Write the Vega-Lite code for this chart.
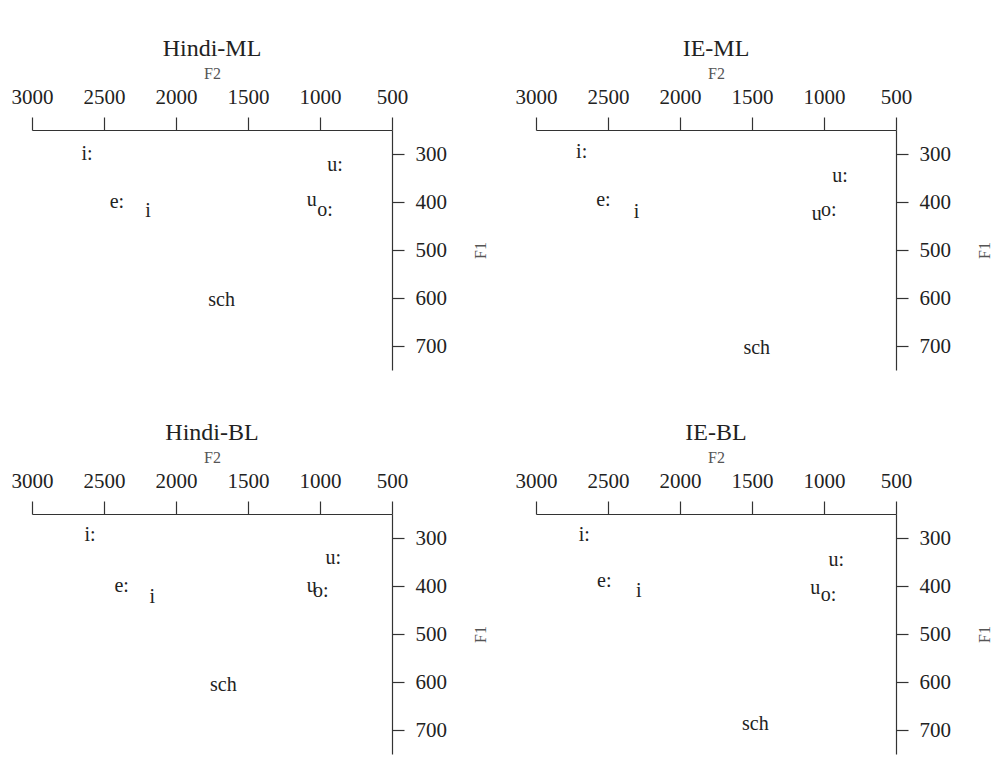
{
  "$schema": "https://vega.github.io/schema/vega-lite/v6.json",
  "background": "white",
  "padding": {"left": 11, "top": 37, "right": 5, "bottom": 5},
  "config": {
    "font": "Liberation Serif",
    "view": {"stroke": null},
    "text": {"font": "Liberation Serif", "fontSize": 20, "color": "#222"},
    "axis": {
      "labelFont": "Liberation Serif", "titleFont": "Liberation Serif",
      "labelFontSize": 21, "titleFontSize": 16, "titleFontWeight": "normal",
      "labelColor": "#222", "titleColor": "#555", "format": "d",
      "domainColor": "#333", "tickColor": "#333", "domainWidth": 1.2, "tickWidth": 1.2,
      "grid": false, "tickSize": 13, "labelFlush": false, "labelOverlap": false
    },
    "title": {"font": "Liberation Serif", "fontSize": 24, "fontWeight": "normal", "color": "#222", "anchor": "middle", "frame": "group"}
  },
  "datasets": {
    "vowels": [
      {"panel": "Hindi-ML", "label": "i:", "F2": 2618, "F1": 300},
      {"panel": "Hindi-ML", "label": "u:", "F2": 896, "F1": 323},
      {"panel": "Hindi-ML", "label": "e:", "F2": 2410, "F1": 401},
      {"panel": "Hindi-ML", "label": "i", "F2": 2194, "F1": 418},
      {"panel": "Hindi-ML", "label": "u", "F2": 1058, "F1": 396},
      {"panel": "Hindi-ML", "label": "o:", "F2": 965, "F1": 417},
      {"panel": "Hindi-ML", "label": "sch", "F2": 1683, "F1": 604},
      {"panel": "IE-ML", "label": "i:", "F2": 2683, "F1": 295},
      {"panel": "IE-ML", "label": "u:", "F2": 889, "F1": 346},
      {"panel": "IE-ML", "label": "e:", "F2": 2532, "F1": 396},
      {"panel": "IE-ML", "label": "i", "F2": 2301, "F1": 420},
      {"panel": "IE-ML", "label": "u", "F2": 1051, "F1": 426},
      {"panel": "IE-ML", "label": "o:", "F2": 967, "F1": 417},
      {"panel": "IE-ML", "label": "sch", "F2": 1467, "F1": 705},
      {"panel": "Hindi-BL", "label": "i:", "F2": 2597, "F1": 294},
      {"panel": "Hindi-BL", "label": "u:", "F2": 907, "F1": 342},
      {"panel": "Hindi-BL", "label": "e:", "F2": 2377, "F1": 400},
      {"panel": "Hindi-BL", "label": "i", "F2": 2164, "F1": 422},
      {"panel": "Hindi-BL", "label": "u", "F2": 1058, "F1": 400},
      {"panel": "Hindi-BL", "label": "o:", "F2": 995, "F1": 410},
      {"panel": "Hindi-BL", "label": "sch", "F2": 1671, "F1": 606},
      {"panel": "IE-BL", "label": "i:", "F2": 2665, "F1": 294},
      {"panel": "IE-BL", "label": "u:", "F2": 914, "F1": 346},
      {"panel": "IE-BL", "label": "e:", "F2": 2526, "F1": 390},
      {"panel": "IE-BL", "label": "i", "F2": 2287, "F1": 410},
      {"panel": "IE-BL", "label": "u", "F2": 1060, "F1": 405},
      {"panel": "IE-BL", "label": "o:", "F2": 968, "F1": 419},
      {"panel": "IE-BL", "label": "sch", "F2": 1477, "F1": 687}
    ]
  },
  "data": {"name": "vowels"},
  "columns": 2,
  "spacing": 144,
  "bounds": "flush",
  "concat": [
    {
      "width": 360, "height": 240,
      "title": {"text": "Hindi-ML", "offset": 4},
      "transform": [{"filter": {"field": "panel", "equal": "Hindi-ML"}}],
      "mark": {"type": "text", "align": "center", "baseline": "middle"},
      "encoding": {
        "x": {"field": "F2", "type": "quantitative", "scale": {"domain": [500, 3000], "reverse": true, "nice": false, "zero": false},
              "axis": {"orient": "top", "values": [3000, 2500, 2000, 1500, 1000, 500], "title": "F2", "labelPadding": 10, "titlePadding": 5}},
        "y": {"field": "F1", "type": "quantitative", "scale": {"domain": [250, 750], "reverse": true, "nice": false, "zero": false},
              "axis": {"orient": "right", "values": [300, 400, 500, 600, 700], "title": "F1", "tickSize": 12, "labelPadding": 11, "titleAngle": 270, "titlePadding": 42}},
        "text": {"field": "label"}
      }
    },
    {
      "width": 360, "height": 240,
      "title": {"text": "IE-ML", "offset": 4},
      "transform": [{"filter": {"field": "panel", "equal": "IE-ML"}}],
      "mark": {"type": "text", "align": "center", "baseline": "middle"},
      "encoding": {
        "x": {"field": "F2", "type": "quantitative", "scale": {"domain": [500, 3000], "reverse": true, "nice": false, "zero": false},
              "axis": {"orient": "top", "values": [3000, 2500, 2000, 1500, 1000, 500], "title": "F2", "labelPadding": 10, "titlePadding": 5}},
        "y": {"field": "F1", "type": "quantitative", "scale": {"domain": [250, 750], "reverse": true, "nice": false, "zero": false},
              "axis": {"orient": "right", "values": [300, 400, 500, 600, 700], "title": "F1", "tickSize": 12, "labelPadding": 11, "titleAngle": 270, "titlePadding": 42}},
        "text": {"field": "label"}
      }
    },
    {
      "width": 360, "height": 240,
      "title": {"text": "Hindi-BL", "offset": 4},
      "transform": [{"filter": {"field": "panel", "equal": "Hindi-BL"}}],
      "mark": {"type": "text", "align": "center", "baseline": "middle"},
      "encoding": {
        "x": {"field": "F2", "type": "quantitative", "scale": {"domain": [500, 3000], "reverse": true, "nice": false, "zero": false},
              "axis": {"orient": "top", "values": [3000, 2500, 2000, 1500, 1000, 500], "title": "F2", "labelPadding": 10, "titlePadding": 5}},
        "y": {"field": "F1", "type": "quantitative", "scale": {"domain": [250, 750], "reverse": true, "nice": false, "zero": false},
              "axis": {"orient": "right", "values": [300, 400, 500, 600, 700], "title": "F1", "tickSize": 12, "labelPadding": 11, "titleAngle": 270, "titlePadding": 42}},
        "text": {"field": "label"}
      }
    },
    {
      "width": 360, "height": 240,
      "title": {"text": "IE-BL", "offset": 4},
      "transform": [{"filter": {"field": "panel", "equal": "IE-BL"}}],
      "mark": {"type": "text", "align": "center", "baseline": "middle"},
      "encoding": {
        "x": {"field": "F2", "type": "quantitative", "scale": {"domain": [500, 3000], "reverse": true, "nice": false, "zero": false},
              "axis": {"orient": "top", "values": [3000, 2500, 2000, 1500, 1000, 500], "title": "F2", "labelPadding": 10, "titlePadding": 5}},
        "y": {"field": "F1", "type": "quantitative", "scale": {"domain": [250, 750], "reverse": true, "nice": false, "zero": false},
              "axis": {"orient": "right", "values": [300, 400, 500, 600, 700], "title": "F1", "tickSize": 12, "labelPadding": 11, "titleAngle": 270, "titlePadding": 42}},
        "text": {"field": "label"}
      }
    }
  ]
}
